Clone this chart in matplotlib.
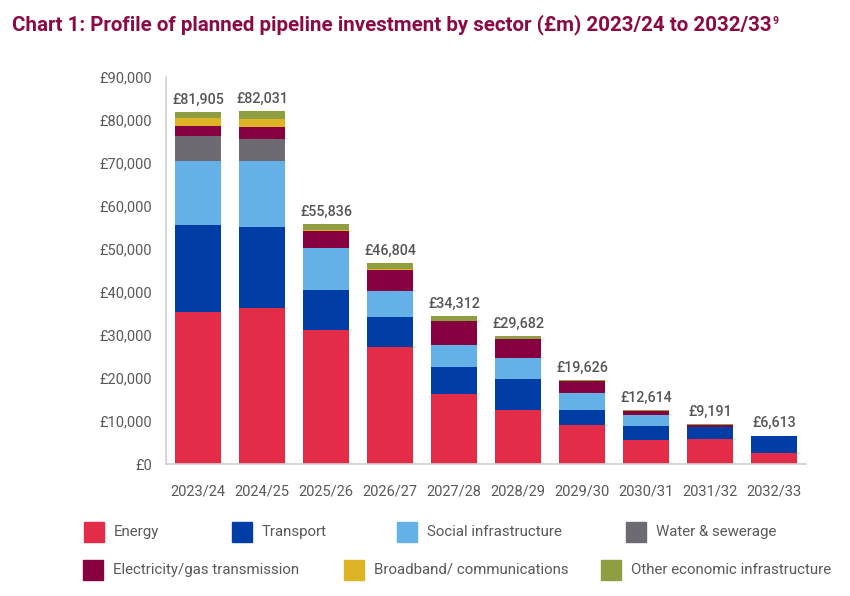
import matplotlib
matplotlib.use("Agg")
import matplotlib.pyplot as plt
from matplotlib.patches import Rectangle
import numpy as np

years = ["2023/24", "2024/25", "2025/26", "2026/27", "2027/28",
         "2028/29", "2029/30", "2030/31", "2031/32", "2032/33"]
totals = [81905, 82031, 55836, 46804, 34312, 29682, 19626, 12614, 9191, 6613]

energy = [35300, 36350, 31240, 27210, 16280, 12560, 9140, 5650, 5700, 2480]
transport = [20300, 18850, 9300, 7050, 6280, 7140, 3420, 3260, 3000, 4133]
social = [14900, 15270, 9690, 6050, 5110, 5020, 4020, 2560, 0, 0]
water = [5800, 5050, 0, 0, 0, 0, 0, 0, 0, 0]
elec = [2300, 2940, 3880, 4810, 5590, 4280, 2720, 930, 350, 0]
broadband = [1800, 1860, 310, 200, 0, 0, 0, 0, 0, 0]
other = [1505, 1711, 1416, 1484, 1052, 682, 326, 214, 141, 0]

series = [
    ("Energy", energy, "#E22C48"),
    ("Transport", transport, "#003DA5"),
    ("Social infrastructure", social, "#63B1E6"),
    ("Water & sewerage", water, "#6D6A71"),
    ("Electricity/gas transmission", elec, "#870040"),
    ("Broadband/ communications", broadband, "#DCB424"),
    ("Other economic infrastructure", other, "#8F9E40"),
]

plt.rcParams['font.family'] = ['Roboto', 'DejaVu Sans']

W, H = 850, 596
fig = plt.figure(figsize=(W / 100, H / 100), dpi=100)
ax = fig.add_axes([166 / W, 1 - 464 / H, (806 - 166) / W, (464 - 77) / H])

x = np.arange(len(years))
bottom = np.zeros(len(years))
for name, vals, col in series:
    v = np.array(vals, dtype=float)
    ax.bar(x, v, bottom=bottom, width=0.71, color=col, edgecolor='none', zorder=2)
    bottom += v

for xi, t in zip(x, totals):
    ax.text(xi, t + 1200, f"£{t:,}", ha='center', va='bottom',
            fontsize=10.3, fontweight='medium', color='#555555')

ax.set_xlim(-0.5, 9.5)
ax.set_ylim(0, 90000)
ax.set_yticks(np.arange(0, 90001, 10000))
ax.set_yticklabels([f"£{v:,}" for v in range(0, 90001, 10000)])
ax.set_xticks(x)
ax.set_xticklabels(years)
ax.tick_params(axis='both', length=0, labelsize=10.5, colors='#595959')
ax.tick_params(axis='y', pad=10)
ax.tick_params(axis='x', pad=15)
for s in ['top', 'right']:
    ax.spines[s].set_visible(False)
for s in ['left', 'bottom']:
    ax.spines[s].set_color('#D0D0D0')
    ax.spines[s].set_linewidth(1.2)

tt = fig.text(12 / W, 1 - 25 / H,
              "Chart 1: Profile of planned pipeline investment by sector (£m) 2023/24 to 2032/33",
              fontsize=14.8, fontweight='bold', color='#8B0A45', va='center', ha='left')
fig.canvas.draw()
bb = tt.get_window_extent()
fig.text(bb.x1 / W + 1 / W, 1 - 21 / H, "9", fontsize=7.5, fontweight='bold',
         color='#8B0A45', va='center', ha='left')

legend_pos = [
    (84, 114, 532), (232, 262, 532), (397, 427, 532), (626, 656, 532),
    (83, 113, 570), (344, 374, 570), (601, 631, 570),
]
for (name, vals, col), (sx, tx, yc) in zip(series, legend_pos):
    fig.patches.append(Rectangle((sx / W, 1 - (yc + 10) / H), 20 / W, 20 / H,
                                 transform=fig.transFigure, color=col, figure=fig))
    fig.text(tx / W, 1 - yc / H, name, fontsize=10.8, color='#595959',
             va='center', ha='left')

fig.savefig("out.png", dpi=100)
